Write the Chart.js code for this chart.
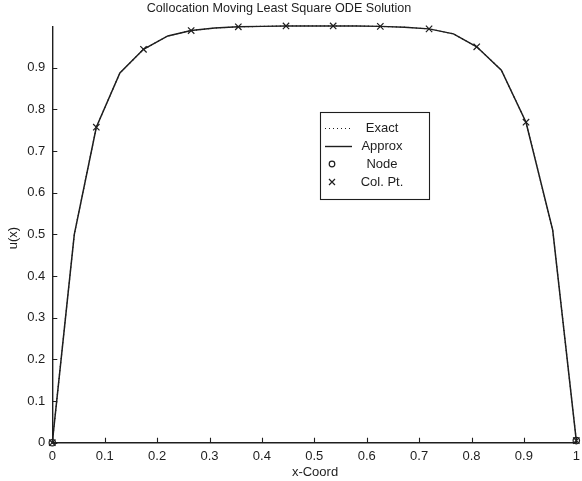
<!DOCTYPE html>
<html>
<head>
<meta charset="utf-8">
<script src="https://cdn.jsdelivr.net/npm/chart.js@4.4.1/dist/chart.umd.min.js"></script>
<style>
  html, body { margin: 0; padding: 0; background: #fff; }
  #plot { display: block; }
</style>
</head>
<body>
<canvas id="plot" width="582" height="481"></canvas>
<script>
// Solution samples: nodes and collocation points alternate along x
const solX    = [0, 0.042, 0.084, 0.129, 0.174, 0.2205, 0.265, 0.31, 0.355, 0.40, 0.446, 0.49, 0.536, 0.58, 0.626, 0.672, 0.719, 0.7656, 0.81, 0.857, 0.904, 0.955, 1.0];
const approxU = [0, 0.50, 0.757, 0.887, 0.944, 0.976, 0.989, 0.995, 0.998, 0.999, 1.0, 1.0, 1.0, 1.0, 0.999, 0.997, 0.993, 0.981, 0.950, 0.894, 0.769, 0.51, 0.005];
const exactU  = [0, 0.50, 0.757, 0.887, 0.944, 0.976, 0.989, 0.995, 0.998, 0.999, 1.0, 1.0, 1.0, 1.0, 0.999, 0.997, 0.993, 0.981, 0.950, 0.894, 0.769, 0.51, 0.005];

// Collocation points (crosses)
const colX = [0, 0.084, 0.174, 0.265, 0.355, 0.446, 0.536, 0.626, 0.719, 0.81, 0.904, 1.0];
const colU = [0, 0.757, 0.944, 0.989, 0.998, 1.0, 1.0, 0.999, 0.993, 0.950, 0.769, 0.005];

// Boundary nodes (circles)
const nodeX = [0, 1];
const nodeU = [0, 0.005];

const xTicks = [0, 0.1, 0.2, 0.3, 0.4, 0.5, 0.6, 0.7, 0.8, 0.9, 1];
const yTicks = [0, 0.1, 0.2, 0.3, 0.4, 0.5, 0.6, 0.7, 0.8, 0.9];

const ink = '#1e1e1e';
const font = '"Liberation Sans", Arial, Helvetica, sans-serif';

const pts = (xs, ys) => xs.map((x, i) => ({ x: x, y: ys[i] }));

// inward ticks, titles and the boxed legend
const decorations = {
  id: 'decorations',
  afterDraw(chart) {
    const c = chart.ctx;
    const xs = chart.scales.x, ys = chart.scales.y;
    const area = chart.chartArea;
    c.save();
    c.strokeStyle = ink;
    c.lineWidth = 1.1;
    c.beginPath();
    xTicks.forEach(t => {
      const px = Math.round(xs.getPixelForValue(t)) + 0.5;
      c.moveTo(px, area.bottom);
      c.lineTo(px, area.bottom - 5);
    });
    yTicks.forEach(t => {
      const py = Math.round(ys.getPixelForValue(t)) + 0.5;
      c.moveTo(area.left, py);
      c.lineTo(area.left + 5, py);
    });
    c.stroke();

    c.fillStyle = ink;
    c.textAlign = 'center';
    c.textBaseline = 'middle';
    c.font = '12.6px ' + font;
    c.fillText('Collocation Moving Least Square ODE Solution', 279, 8.5);
    c.font = '13px ' + font;
    c.fillText('x-Coord', 315, 472);
    c.save();
    c.translate(13, 238);
    c.rotate(-Math.PI / 2);
    c.fillText('u(x)', 0, 0);
    c.restore();

    // legend
    c.lineWidth = 1.1;
    c.strokeRect(320.5, 112.5, 109, 87);
    const rows = [128, 146, 164, 182];
    const labels = ['Exact', 'Approx', 'Node', 'Col. Pt.'];
    labels.forEach((l, i) => c.fillText(l, 382, rows[i]));
    c.lineWidth = 1.2;
    c.setLineDash([1, 3]);
    c.beginPath(); c.moveTo(325, rows[0] + 0.5); c.lineTo(352, rows[0] + 0.5); c.stroke();
    c.setLineDash([]);
    c.lineWidth = 1.4;
    c.beginPath(); c.moveTo(325, rows[1] + 0.5); c.lineTo(352, rows[1] + 0.5); c.stroke();
    c.lineWidth = 1.2;
    c.beginPath(); c.arc(332, rows[2], 2.8, 0, Math.PI * 2); c.stroke();
    c.beginPath();
    c.moveTo(329, rows[3] - 3); c.lineTo(335, rows[3] + 3);
    c.moveTo(335, rows[3] - 3); c.lineTo(329, rows[3] + 3);
    c.stroke();
    c.restore();
  }
};

new Chart(document.getElementById('plot'), {
  type: 'scatter',
  data: {
    datasets: [
      {
        label: 'Exact',
        data: pts(solX, exactU),
        showLine: true,
        borderColor: ink,
        borderWidth: 1.2,
        borderDash: [1, 3],
        pointRadius: 0
      },
      {
        label: 'Approx',
        data: pts(solX, approxU),
        showLine: true,
        borderColor: ink,
        borderWidth: 1.5,
        pointRadius: 0
      },
      {
        label: 'Node',
        data: pts(nodeX, nodeU),
        pointStyle: 'circle',
        pointRadius: 3.2,
        borderColor: ink,
        borderWidth: 1.2,
        backgroundColor: 'rgba(0,0,0,0)'
      },
      {
        label: 'Col. Pt.',
        data: pts(colX, colU),
        pointStyle: 'crossRot',
        pointRadius: 4.5,
        borderColor: ink,
        borderWidth: 1.2
      }
    ]
  },
  options: {
    responsive: false,
    animation: false,
    clip: false,
    layout: { padding: { top: 27, right: 3.5, left: 0, bottom: 0 } },
    plugins: {
      legend: { display: false },
      title: { display: false },
      tooltip: { enabled: false }
    },
    scales: {
      x: {
        type: 'linear',
        min: 0,
        max: 1,
        afterFit: s => { s.height = 38.3; s.paddingLeft = 0; s.paddingRight = 0; },
        afterBuildTicks: s => { s.ticks = xTicks.map(v => ({ value: v })); },
        grid: { display: false, drawTicks: false },
        border: { display: true, color: ink, width: 1.4 },
        ticks: {
          color: ink,
          padding: 6,
          maxRotation: 0,
          font: { family: font, size: 13 },
          callback: v => String(v)
        }
      },
      y: {
        type: 'linear',
        min: 0,
        max: 0.9975,
        afterFit: s => { s.width = 52.3; s.paddingTop = 0; s.paddingBottom = 0; },
        afterBuildTicks: s => { s.ticks = yTicks.map(v => ({ value: v })); },
        grid: { display: false, drawTicks: false },
        border: { display: true, color: ink, width: 1.4 },
        ticks: {
          color: ink,
          padding: 7,
          font: { family: font, size: 13 },
          callback: v => String(v)
        }
      }
    }
  },
  plugins: [decorations]
});
</script>
</body>
</html>
